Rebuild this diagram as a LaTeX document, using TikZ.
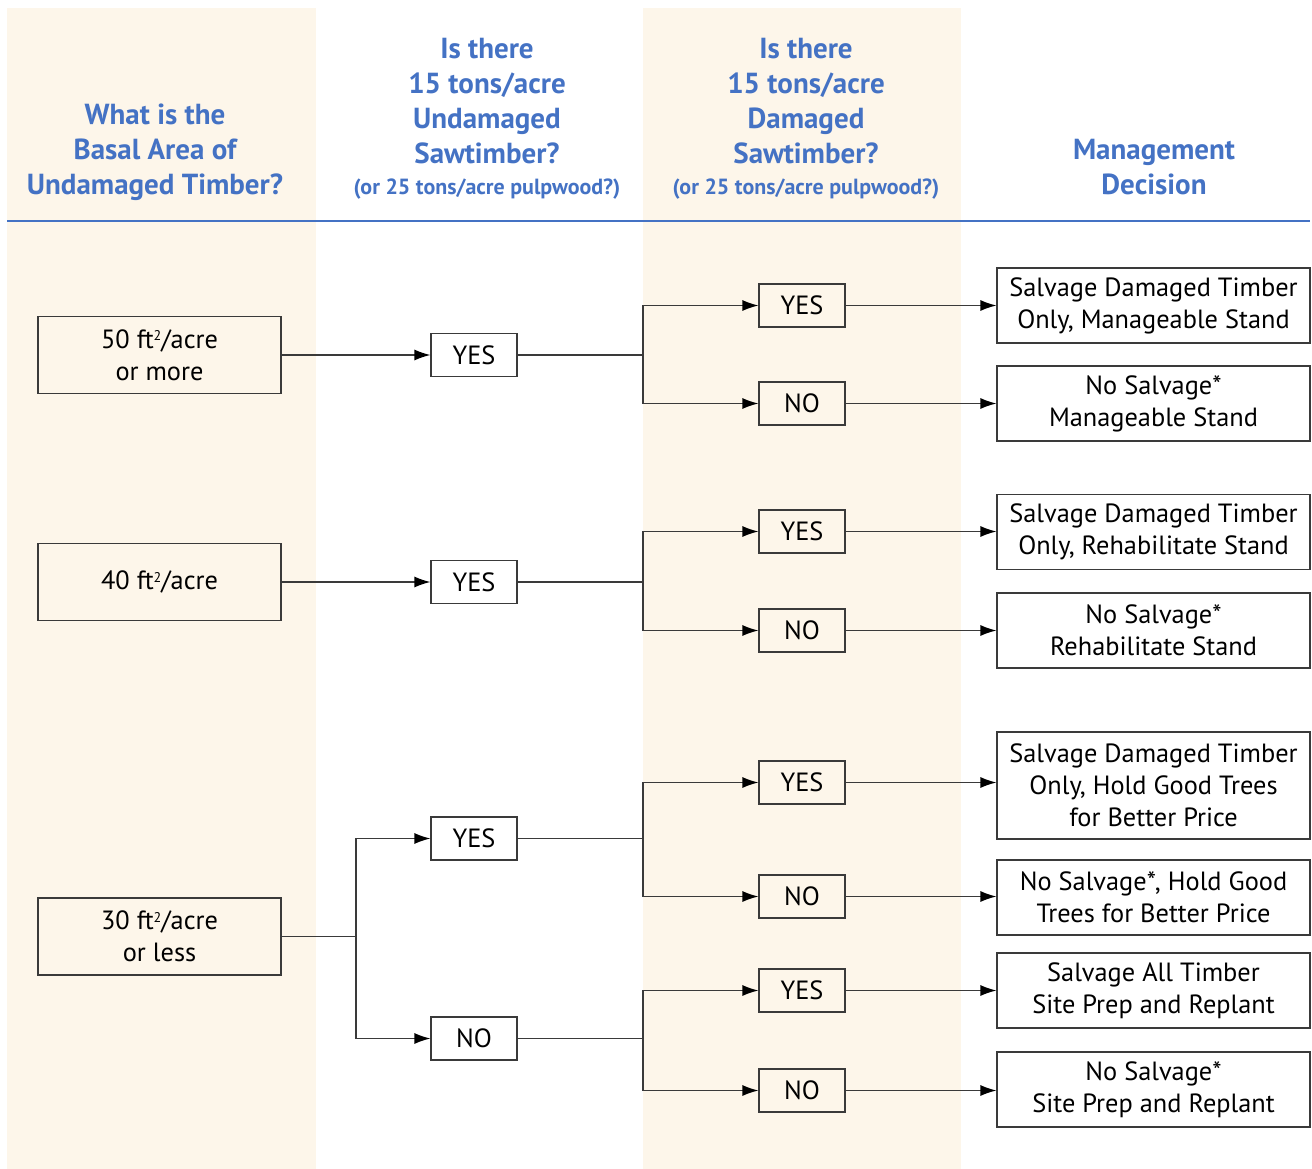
\documentclass[tikz,border=0pt]{standalone}
\usepackage{fontspec}
\setmainfont{PT Sans}
\usetikzlibrary{arrows.meta}
\definecolor{cream}{HTML}{FDF6EA}
\definecolor{headblue}{HTML}{4472C4}
\definecolor{linegray}{HTML}{3A3A3A}
\newcommand{\sqft}{ft\raisebox{0.55ex}{\fontsize{8}{8}\selectfont 2}}

\begin{document}
\begin{tikzpicture}[x=0.02cm, y=-0.02cm,
  heading/.style={text=headblue, font=\fontsize{16.5}{19.9}\selectfont\bfseries, align=center},
  subheading/.style={text=headblue, font=\fontsize{12.5}{14}\selectfont\bfseries},
  box/.style={draw=linegray, line width=0.7pt, align=center, inner sep=0pt, font=\fontsize{15}{18.2}\selectfont},
  basal/.style={box, minimum width=4.86cm, minimum height=1.54cm},
  answer/.style={box, minimum width=1.72cm, minimum height=0.86cm},
  decision/.style={box, minimum width=6.26cm, minimum height=1.5cm},
  link/.style={line width=0.7pt, draw=linegray},
  arr/.style={link, -{Latex[length=3.2mm, width=2.2mm, black]}}]

  \useasboundingbox (0,0) rectangle (1312,1169);

  \fill[cream] (7,8) rectangle (316,1169);
  \fill[cream] (643,8) rectangle (961,1169);
  \draw[headblue, line width=1.6pt] (7,221) -- (1310,221);

  \node[heading] (h1) at (155,152) {What is the\\Basal Area of\\Undamaged Timber?};
  \node[heading] (h2) at (487,101) {Is there\\15 tons/acre\\Undamaged\\Sawtimber?};
  \node[subheading] (h2s) at (487,189) {(or 25 tons/acre pulpwood?)};
  \node[heading] (h3) at (806,101) {Is there\\15 tons/acre\\Damaged\\Sawtimber?};
  \node[subheading] (h3s) at (806,189) {(or 25 tons/acre pulpwood?)};
  \node[heading] (h4) at (1154,167) {Management\\Decision};

  \node[basal] (a1) at (159.5,355) {50 \sqft/acre\\or more};
  \node[basal] (a2) at (159.5,582) {40 \sqft/acre};
  \node[basal] (a3) at (159.5,936.5) {30 \sqft/acre\\or less};

  \node[answer] (b1) at (474,355) {YES};
  \node[answer] (b2) at (474,582) {YES};
  \node[answer] (b3) at (474,838.5) {YES};
  \node[answer] (b4) at (474,1038.5) {NO};

  \node[answer] (c1) at (802,305.5) {YES};
  \node[answer] (c2) at (802,403.5) {NO};
  \node[answer] (c3) at (802,531.5) {YES};
  \node[answer] (c4) at (802,630.5) {NO};
  \node[answer] (c5) at (802,782.5) {YES};
  \node[answer] (c6) at (802,896.5) {NO};
  \node[answer] (c7) at (802,990.5) {YES};
  \node[answer] (c8) at (802,1090.5) {NO};

  \node[decision] (d1) at (1153.5,305.5) {Salvage Damaged Timber\\Only, Manageable Stand};
  \node[decision] (d2) at (1153.5,403.5) {No Salvage*\\Manageable Stand};
  \node[decision] (d3) at (1153.5,532) {Salvage Damaged Timber\\Only, Rehabilitate Stand};
  \node[decision] (d4) at (1153.5,630.5) {No Salvage*\\Rehabilitate Stand};
  \node[decision, minimum height=2.14cm] (d5) at (1153.5,785.5) {Salvage Damaged Timber\\Only, Hold Good Trees\\for Better Price};
  \node[decision] (d6) at (1153.5,897.5) {No Salvage*, Hold Good\\Trees for Better Price};
  \node[decision] (d7) at (1153.5,990.5) {Salvage All Timber\\Site Prep and Replant};
  \node[decision] (d8) at (1153.5,1089.5) {No Salvage*\\Site Prep and Replant};

  \coordinate (sa3) at (356,936.5);
  \coordinate (sb1) at (643,355);
  \coordinate (sb2) at (643,582);
  \coordinate (sb3) at (643,838.5);
  \coordinate (sb4) at (643,1038.5);

  \draw[arr] (a1.east) -- (b1.west);
  \draw[arr] (a2.east) -- (b2.west);
  \draw[link] (a3.east) -- (sa3);
  \draw[arr] (sa3) |- (b3.west);
  \draw[arr] (sa3) |- (b4.west);

  \draw[link] (b1.east) -- (sb1);
  \draw[link] (b2.east) -- (sb2);
  \draw[link] (b3.east) -- (sb3);
  \draw[link] (b4.east) -- (sb4);
  \draw[arr] (sb1) |- (c1.west);
  \draw[arr] (sb1) |- (c2.west);
  \draw[arr] (sb2) |- (c3.west);
  \draw[arr] (sb2) |- (c4.west);
  \draw[arr] (sb3) |- (c5.west);
  \draw[arr] (sb3) |- (c6.west);
  \draw[arr] (sb4) |- (c7.west);
  \draw[arr] (sb4) |- (c8.west);

  \draw[arr] (c1.east) -- (d1.west |- c1.east);
  \draw[arr] (c2.east) -- (d2.west |- c2.east);
  \draw[arr] (c3.east) -- (d3.west |- c3.east);
  \draw[arr] (c4.east) -- (d4.west |- c4.east);
  \draw[arr] (c5.east) -- (d5.west |- c5.east);
  \draw[arr] (c6.east) -- (d6.west |- c6.east);
  \draw[arr] (c7.east) -- (d7.west |- c7.east);
  \draw[arr] (c8.east) -- (d8.west |- c8.east);

\end{tikzpicture}
\end{document}
